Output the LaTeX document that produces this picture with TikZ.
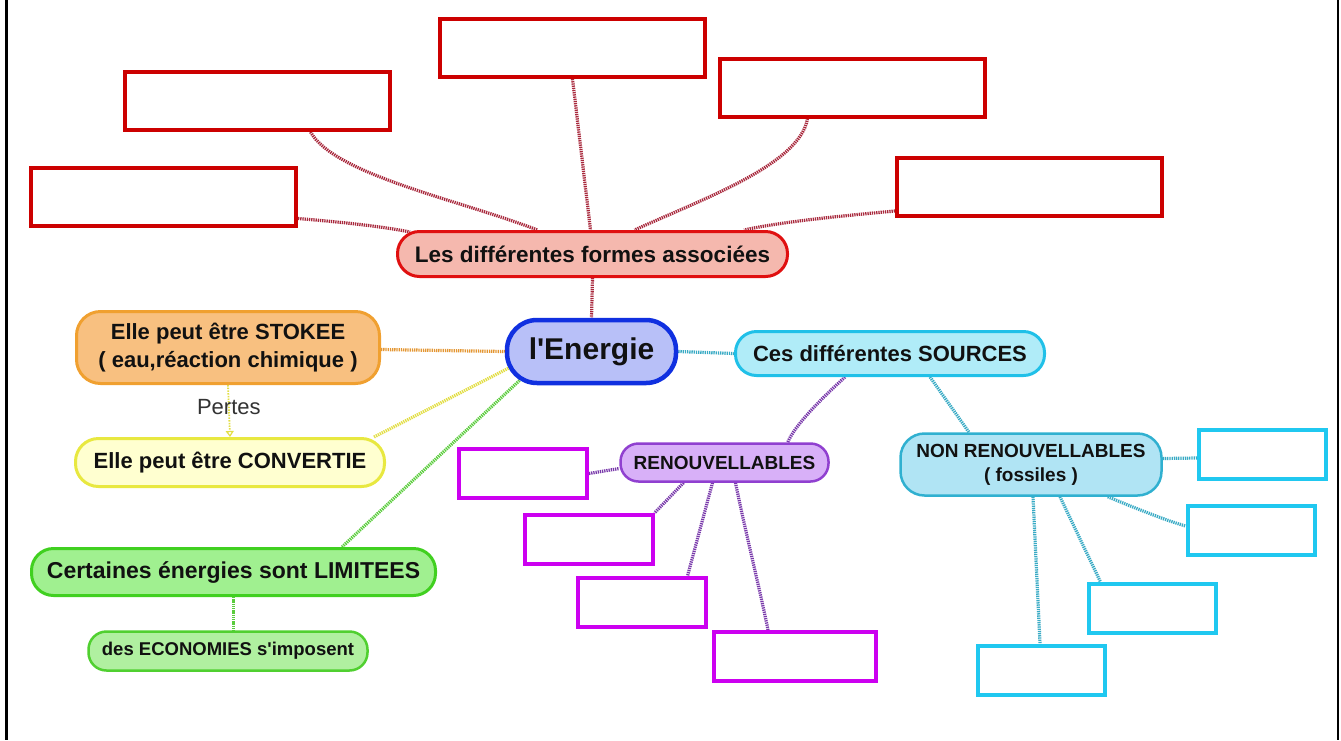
\documentclass[tikz,border=0pt]{standalone}
\usepackage{fontspec}
\setmainfont{Liberation Sans}
\usetikzlibrary{arrows.meta,calc,backgrounds}
\definecolor{boxred}{RGB}{204,0,0}
\definecolor{boxpurple}{RGB}{204,0,240}
\definecolor{boxcyan}{RGB}{32,200,240}
\definecolor{pinkfill}{RGB}{245,184,174}
\definecolor{pinkdraw}{RGB}{224,16,16}
\definecolor{enfill}{RGB}{184,192,248}
\definecolor{endraw}{RGB}{16,48,224}
\definecolor{srcfill}{RGB}{176,236,248}
\definecolor{srcdraw}{RGB}{32,192,232}
\definecolor{orfill}{RGB}{248,192,128}
\definecolor{ordraw}{RGB}{240,160,48}
\definecolor{yefill}{RGB}{255,255,208}
\definecolor{yedraw}{RGB}{232,232,64}
\definecolor{grfill}{RGB}{160,240,144}
\definecolor{grdraw}{RGB}{64,208,32}
\definecolor{gr2fill}{RGB}{176,240,160}
\definecolor{gr2draw}{RGB}{80,208,48}
\definecolor{pufill}{RGB}{216,176,248}
\definecolor{pudraw}{RGB}{144,64,208}
\definecolor{nrfill}{RGB}{176,228,244}
\definecolor{nrdraw}{RGB}{48,176,208}
\definecolor{lnred}{RGB}{168,40,60}
\definecolor{lnorange}{RGB}{228,150,50}
\definecolor{lnyellow}{RGB}{226,222,70}
\definecolor{lngreen}{RGB}{90,204,60}
\definecolor{lncyan}{RGB}{56,170,196}
\definecolor{lnpurple}{RGB}{120,56,170}
\definecolor{txt}{RGB}{17,17,17}
\begin{document}
\begin{tikzpicture}[x=1pt,y=-1pt,
  blank/.style={draw,line width=4pt,fill=white,inner sep=0pt},
  redbox/.style={blank,draw=boxred,minimum width=265pt,minimum height=58pt},
  purbox/.style={blank,draw=boxpurple,minimum width=128pt,minimum height=49pt},
  cyanbox/.style={blank,draw=boxcyan,minimum width=127pt,minimum height=49pt},
  topic/.style={draw,line width=3pt,inner sep=0pt,text=txt,align=center},
  conn/.style={line width=3.2pt,dash pattern=on 1.3pt off 0.9pt},
  bf/.style={font=\fontsize{#1}{#1}\selectfont\bfseries}
]
\useasboundingbox (0,0) rectangle (1341,740);
% frame
\draw[line width=3pt] (6,0) -- (6,740);
\draw[line width=2pt] (1338,0) -- (1338,740);

% blank red boxes
\node[redbox] (R1) at (257.5,101) {};
\node[redbox] (R2) at (163.5,196.5) {};
\node[redbox] (R3) at (572.5,48) {};
\node[redbox] (R4) at (852.5,87.5) {};
\node[redbox] (R5) at (1029.5,187) {};
% blank purple boxes
\node[purbox] (P1) at (523,473.5) {};
\node[purbox] (P2) at (588.5,539.5) {};
\node[purbox] (P3) at (641.5,602.5) {};
\node[purbox,minimum width=162pt] (P4) at (795,656.5) {};
% blank cyan boxes
\node[cyanbox] (C1) at (1262.5,454) {};
\node[cyanbox] (C2) at (1251,530) {};
\node[cyanbox] (C3) at (1152.5,608.5) {};
\node[cyanbox] (C4) at (1041,670) {};

% topic nodes
\node[topic,fill=pinkfill,draw=pinkdraw,minimum width=390pt,minimum height=45pt,rounded corners=22pt,bf=22.5] (pink) at (592.5,254) {Les différentes formes associées};
\node[topic,fill=enfill,draw=endraw,line width=4.5pt,minimum width=169pt,minimum height=63pt,rounded corners=30pt,bf=30] (energie) at (591.5,351.5) {l\textquotesingle Energie};
\node[topic,fill=srcfill,draw=srcdraw,minimum width=309pt,minimum height=44pt,rounded corners=21pt,bf=22] (sources) at (890,353.5) {Ces différentes SOURCES};
\node[topic,fill=orfill,draw=ordraw,minimum width=303pt,minimum height=72pt,rounded corners=24pt,font=\fontsize{22}{28}\selectfont\bfseries] (stokee) at (228,347.5) {Elle peut être STOKEE\\( eau,réaction chimique )};
\node[topic,fill=yefill,draw=yedraw,minimum width=309pt,minimum height=48pt,rounded corners=23pt,bf=22] (convertie) at (230,462.5) {Elle peut être CONVERTIE};
\node[topic,fill=grfill,draw=grdraw,minimum width=404pt,minimum height=47pt,rounded corners=22pt,bf=23] (limitees) at (233.5,572) {Certaines énergies sont LIMITEES};
\node[topic,fill=gr2fill,draw=gr2draw,line width=2.5pt,minimum width=279pt,minimum height=39pt,rounded corners=18pt,bf=18.5] (economies) at (228,651) {des ECONOMIES s\textquotesingle imposent};
\node[topic,fill=pufill,draw=pudraw,line width=2.5pt,minimum width=208pt,minimum height=38pt,rounded corners=18pt,bf=19] (renouv) at (724.5,462.5) {RENOUVELLABLES};
\node[topic,fill=nrfill,draw=nrdraw,line width=2.5pt,minimum width=261pt,minimum height=62pt,rounded corners=24pt,font=\fontsize{19}{24}\selectfont\bfseries] (nonr) at (1031,464.5) {NON RENOUVELLABLES\\( fossiles )};

\begin{scope}[on background layer]
% red branch
\draw[conn,lnred] ($(R2.east)+(0,22)$) .. controls (340,222) and (380,226) .. ($(pink.north west)+(14,2)$);
\draw[conn,lnred] ($(R1.south)+(53,0)$) .. controls (335,175) and (460,200) .. ($(pink.north)+(-55,0)$);
\draw[conn,lnred] (R3.south) -- ($(pink.north)+(-2,0)$);
\draw[conn,lnred] ($(R4.south)+(-45,0)$) .. controls (800,165) and (700,200) .. ($(pink.north)+(42,0)$);
\draw[conn,lnred] ($(R5.west)+(0,24)$) .. controls (840,216) and (780,222) .. ($(pink.north east)+(-45,0)$);
\draw[conn,lnred] (pink.south) -- (energie.north);
% left branches
\draw[conn,lnorange] ($(stokee.east)+(0,2)$) -- (energie.west);
\draw[conn,lnyellow] ($(convertie.north east)+(-12,0)$) -- ($(energie.west)+(5,16)$);
\draw[conn,lngreen] ($(limitees.north east)+(-95,0)$) -- ($(energie.south west)+(15,-5)$);
\draw[conn,lngreen,line width=2.4pt] (limitees.south) -- (limitees.south |- economies.north);
% sources
\draw[conn,lncyan] (energie.east) -- (sources.west);
\draw[conn,lnpurple] ($(sources.south)+(-45,0)$) .. controls (820,400) and (795,425) .. ($(renouv.north east)+(-42,0)$);
\draw[conn,lncyan] ($(sources.south)+(40,0)$) -- ($(nonr.north)+(-62,0)$);
% renouvelables
\draw[conn,lnpurple] (P1.east) -- ($(renouv.west)+(0,6)$);
\draw[conn,lnpurple] ($(renouv.south)+(-41,0)$) -- (P2.north east);
\draw[conn,lnpurple] ($(renouv.south)+(-12,0)$) -- ($(P3.north)+(46,0)$);
\draw[conn,lnpurple] ($(renouv.south)+(11,0)$) .. controls (745,530) and (760,590) .. ($(P4.north)+(-27,0)$);
% non renouvelables
\draw[conn,lncyan] ($(nonr.east)+(0,-6)$) -- ($(C1.west)+(0,4)$);
\draw[conn,lncyan] ($(nonr.south east)+(-55,0)$) .. controls (1140,510) and (1165,520) .. ($(C2.west)+(0,-4)$);
\draw[conn,lncyan] ($(nonr.south)+(29,0)$) -- ($(C3.north)+(-52,0)$);
\draw[conn,lncyan] ($(nonr.south)+(2,0)$) -- ($(C4.north)+(-1,0)$);
\end{scope}

% Pertes
\draw[lnyellow,line width=1.8pt,dash pattern=on 1.5pt off 1.2pt,-{Triangle[open,length=6pt,width=8pt,line width=1.2pt]}] (stokee.south) -- (convertie.north) node[pos=0.42,text=black!80,font=\fontsize{22}{22}\selectfont] (pertes) {Pertes};
\end{tikzpicture}
\end{document}
